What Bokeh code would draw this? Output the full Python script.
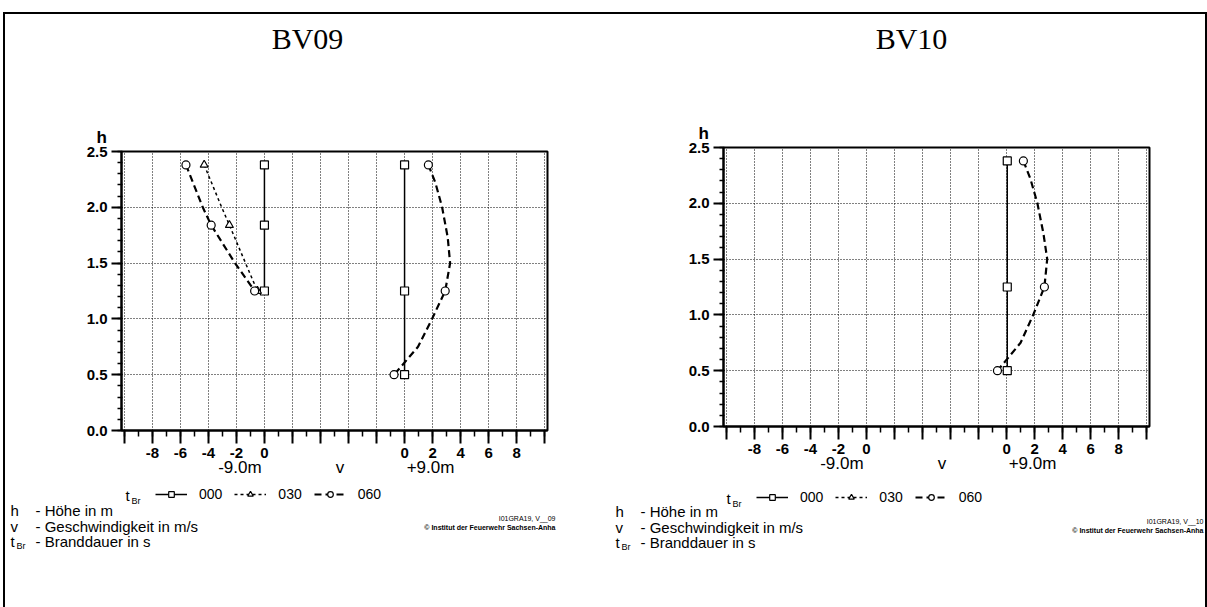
from bokeh.plotting import figure
from bokeh.models import Label, Legend, LegendItem, FixedTicker, Range1d, LinearAxis, Title
from bokeh.layouts import row, column
from bokeh.embed import file_html
from bokeh.resources import INLINE

# ---------------- data ----------------
series_names = ["000", "030", "060"]          # Branddauer t_Br in s
panel_titles = ["BV09", "BV10"]
group_labels = ["-9.0m", "+9.0m"]              # measuring columns

# measuring heights (m)
h_m9 = [2.38, 1.84, 1.25]                      # column at -9.0 m
h_p9 = [2.38, 1.25, 0.50]                      # column at +9.0 m

# BV09 velocities (m/s) at the measuring points
bv09_m9_000 = [0.0, 0.0, 0.0]
bv09_m9_030 = [-4.3, -2.5, -0.5]
bv09_m9_060 = [-5.6, -3.8, -0.7]
bv09_p9_000 = [0.0, 0.0, 0.0]
bv09_p9_060 = [1.7, 2.9, -0.75]

# BV10 velocities (m/s)
bv10_p9_000 = [0.05, 0.05, 0.05]
bv10_p9_060 = [1.2, 2.7, -0.65]

# smoothed connecting curves as drawn in the picture
curve_h_m9 = [2.38, 2.0, 1.84, 1.5, 1.25]
curve_bv09_m9_030 = [-4.3, -3.05, -2.5, -1.35, -0.5]
curve_bv09_m9_060 = [-5.6, -4.4, -3.8, -2.1, -0.7]
curve_h_p9 = [2.38, 2.22, 2.0, 1.73, 1.5, 1.25, 1.0, 0.75, 0.5]
curve_bv09_p9_060 = [1.7, 2.2, 2.68, 3.08, 3.25, 2.9, 1.96, 0.96, -0.75]
curve_bv10_p9_060 = [1.2, 1.7, 2.2, 2.63, 2.9, 2.7, 1.9, 1.0, -0.65]

# axis ticks
x_tick_values = [-10, -8, -6, -4, -2, 0, 2, 4, 6, 8, 10, 12, 14, 16, 18, 20]
x_tick_text = ["", "-8", "-6", "-4", "-2", "0", "", "", "", "", "0", "2", "4", "6", "8", ""]
y_tick_values = [0.0, 0.5, 1.0, 1.5, 2.0, 2.5]
y_tick_text = ["0.0", "0.5", "1.0", "1.5", "2.0", "2.5"]
# second row under the x axis: column names and the axis name "v"
group_tick_values = [-1.75, 5.4, 11.85]
group_tick_text = [group_labels[0], "v", group_labels[1]]

GROUP_OFFSET = 10   # zero of the +9.0 m column sits 10 axis units right of the -9.0 m zero

# ---------------- styling ----------------
X0, X1 = -10.2, 20.2
Y0, Y1 = 0.0, 2.5
FW, FH = 426, 279
CW = 600
SANS = "Liberation Sans"
SERIF = "Liberation Serif"

STYLE = {
    "000": dict(marker="square", dash="solid", lw=1.5),
    "030": dict(marker="triangle", dash="3 3", lw=1.5),
    "060": dict(marker="circle", dash="7 4", lw=2.2),
}


def shift(vals, off):
    return [v + off for v in vals]


def make_panel(ox, oy, fl, ft, height):
    p = figure(width=CW, height=height, x_range=Range1d(X0, X1), y_range=Range1d(Y0, Y1),
               output_backend="svg", toolbar_location=None, title=None,
               min_border_left=fl - ox, min_border_right=CW - (fl - ox) - FW,
               min_border_top=ft - oy, min_border_bottom=height - (ft - oy) - FH)
    p.background_fill_color = "white"
    p.border_fill_color = "white"
    p.outline_line_color = "black"
    p.outline_line_width = 2

    # vertical axis name "h" above the axis
    p.add_layout(Title(text="h", align="left", offset=-25, standoff=10,
                       text_font=SANS, text_font_size="17px", text_font_style="bold",
                       text_color="black"), "above")

    p.xaxis.ticker = FixedTicker(ticks=x_tick_values, minor_ticks=list(range(-10, 21)))
    p.xaxis.major_label_overrides = {t: s for t, s in zip(x_tick_values, x_tick_text)}
    p.yaxis.ticker = FixedTicker(ticks=y_tick_values,
                                 minor_ticks=[i / 10 for i in range(0, 26)])
    p.yaxis.major_label_overrides = {t: s for t, s in zip(y_tick_values, y_tick_text)}
    for ax in (p.xaxis, p.yaxis):
        ax.axis_line_width = 2
        ax.axis_line_color = "black"
        ax.major_tick_line_color = "black"
        ax.minor_tick_line_color = "black"
        ax.major_tick_line_width = 2
        ax.minor_tick_line_width = 1.5
        ax.major_label_text_font = SANS
        ax.major_label_text_font_size = "15px"
        ax.major_label_text_font_style = "bold"
        ax.major_label_text_color = "black"
    p.xaxis.major_tick_in = 0
    p.xaxis.major_tick_out = 13
    p.xaxis.minor_tick_in = 0
    p.xaxis.minor_tick_out = 6
    p.xaxis.major_label_standoff = 4
    p.yaxis.major_tick_in = 0
    p.yaxis.major_tick_out = 10
    p.yaxis.minor_tick_in = 1
    p.yaxis.minor_tick_out = 4
    p.yaxis.major_label_standoff = 4

    gax = LinearAxis(ticker=FixedTicker(ticks=group_tick_values),
                     major_label_overrides={t: s for t, s in zip(group_tick_values, group_tick_text)},
                     axis_line_color=None, major_tick_line_color=None, minor_tick_line_color=None,
                     major_tick_out=0, major_tick_in=0, major_label_standoff=-3,
                     major_label_text_font=SANS, major_label_text_font_size="17px",
                     major_label_text_color="black")
    p.add_layout(gax, "below")

    p.xgrid.ticker = FixedTicker(ticks=x_tick_values)
    p.ygrid.ticker = FixedTicker(ticks=y_tick_values)
    for g in (p.xgrid, p.ygrid):
        g.grid_line_color = "black"
        g.grid_line_width = 1
        g.grid_line_dash = "1 2"
    return p


def add_series(p, xs, ys, curve_x, curve_y, name, visible=True):
    st = STYLE[name]
    lr = p.line(curve_x, curve_y, line_color="black", line_width=st["lw"],
                line_dash=st["dash"], visible=visible)
    sr = p.scatter(xs, ys, marker=st["marker"], size=8, fill_color="white",
                   line_color="black", line_width=1.2, visible=visible)
    return [lr, sr]


def text_strip(ox, oy, height):
    """a plain canvas whose data units are page pixels (y downward)"""
    s = figure(width=CW, height=height, x_range=Range1d(ox, ox + CW),
               y_range=Range1d(oy + height, oy), output_backend="svg",
               toolbar_location=None, title=None, x_axis_type=None, y_axis_type=None,
               min_border=0, min_border_left=0, min_border_right=0,
               min_border_top=0, min_border_bottom=0)
    s.outline_line_color = None
    s.xgrid.visible = False
    s.ygrid.visible = False
    s.background_fill_color = "white"
    s.border_fill_color = "white"
    return s


def lab(s, px, py, text, size, font=SANS, align="left", style="normal"):
    s.add_layout(Label(x=px, y=py, text=text, text_font=font, text_font_size=f"{size}px",
                       text_align=align, text_baseline="middle", text_font_style=style,
                       text_color="black"))


def top_strip(ox, oy, height, title, title_xy):
    s = text_strip(ox, oy, height)
    lab(s, title_xy[0], title_xy[1], title, 30, font=SERIF, align="center")
    return s


# the legend keys use the BV09 (-9.0 m) series, hidden in the strip
legend_series = {"000": (bv09_m9_000, h_m9), "030": (bv09_m9_030, h_m9), "060": (bv09_m9_060, h_m9)}


def bottom_strip(ox, oy, height, leg_xy, block_xy, small_xy, small_text):
    s = text_strip(ox, oy, height)
    items = []
    for name in series_names:
        xs, ys = legend_series[name]
        rs = add_series(s, xs, ys, xs, ys, name, visible=False)
        items.append(LegendItem(label=name, renderers=rs))
    lx, ly = leg_xy
    leg = Legend(items=items, location=(lx + 30 - ox, (oy + height) - (ly + 7)),
                 orientation="horizontal",
                 glyph_width=32, glyph_height=14, label_height=14, label_width=10,
                 label_standoff=12, spacing=12, padding=0, margin=0,
                 border_line_color=None, background_fill_alpha=0,
                 inactive_fill_alpha=0,
                 label_text_font=SANS, label_text_font_size="14px",
                 label_text_color="black")
    s.add_layout(leg)
    lab(s, lx, ly, "t", 15)
    lab(s, lx + 6, ly + 5, "Br", 9)
    bx, by = block_xy
    lab(s, bx, by, "h", 15)
    lab(s, bx + 25, by, "- Höhe in m", 15)
    lab(s, bx, by + 16, "v", 15)
    lab(s, bx + 25, by + 16, "- Geschwindigkeit in m/s", 15)
    lab(s, bx, by + 31, "t", 15)
    lab(s, bx + 6, by + 35, "Br", 9)
    lab(s, bx + 25, by + 31, "- Branddauer in s", 15)
    sx, sy = small_xy
    lab(s, sx, sy, small_text, 7, align="right")
    lab(s, sx, sy + 9, "© Institut der Feuerwehr Sachsen-Anha", 7, align="right", style="bold")
    return s


# ---------------- panel BV09 (page x 5..605) ----------------
p1 = make_panel(5, 120, 121, 151, 360)
add_series(p1, bv09_m9_000, h_m9, bv09_m9_000, h_m9, "000")
add_series(p1, bv09_m9_030, h_m9, curve_bv09_m9_030, curve_h_m9, "030")
add_series(p1, bv09_m9_060, h_m9, curve_bv09_m9_060, curve_h_m9, "060")
add_series(p1, shift(bv09_p9_000, GROUP_OFFSET), h_p9, shift(bv09_p9_000, GROUP_OFFSET), h_p9, "000")
add_series(p1, shift(bv09_p9_060, GROUP_OFFSET), h_p9, shift(curve_bv09_p9_060, GROUP_OFFSET), curve_h_p9, "060")
t1 = top_strip(5, 14, 106, panel_titles[0], (307, 38))
b1 = bottom_strip(5, 480, 127, (125, 495), (10, 510), (555, 518), "I01GRA19, V__09")

# ---------------- panel BV10 (page x 605..1205) ----------------
p2 = make_panel(605, 116, 723, 147, 364)
add_series(p2, shift(bv10_p9_000, GROUP_OFFSET), h_p9, shift(bv10_p9_000, GROUP_OFFSET), h_p9, "000")
add_series(p2, shift(bv10_p9_060, GROUP_OFFSET), h_p9, shift(curve_bv10_p9_060, GROUP_OFFSET), curve_h_p9, "060")
t2 = top_strip(605, 14, 102, panel_titles[1], (911, 38))
b2 = bottom_strip(605, 480, 127, (726, 498), (615, 511), (1203, 521), "I01GRA19, V__10")

layout = row(column(row(t1), p1, row(b1)), column(row(t2), p2, row(b2)),
             styles={"margin-top": "12px", "margin-left": "3px",
                     "border-top": "2px solid black",
                     "border-left": "2px solid black",
                     "border-right": "2px solid black"})

open("out.html", "w").write(file_html(layout, INLINE))
